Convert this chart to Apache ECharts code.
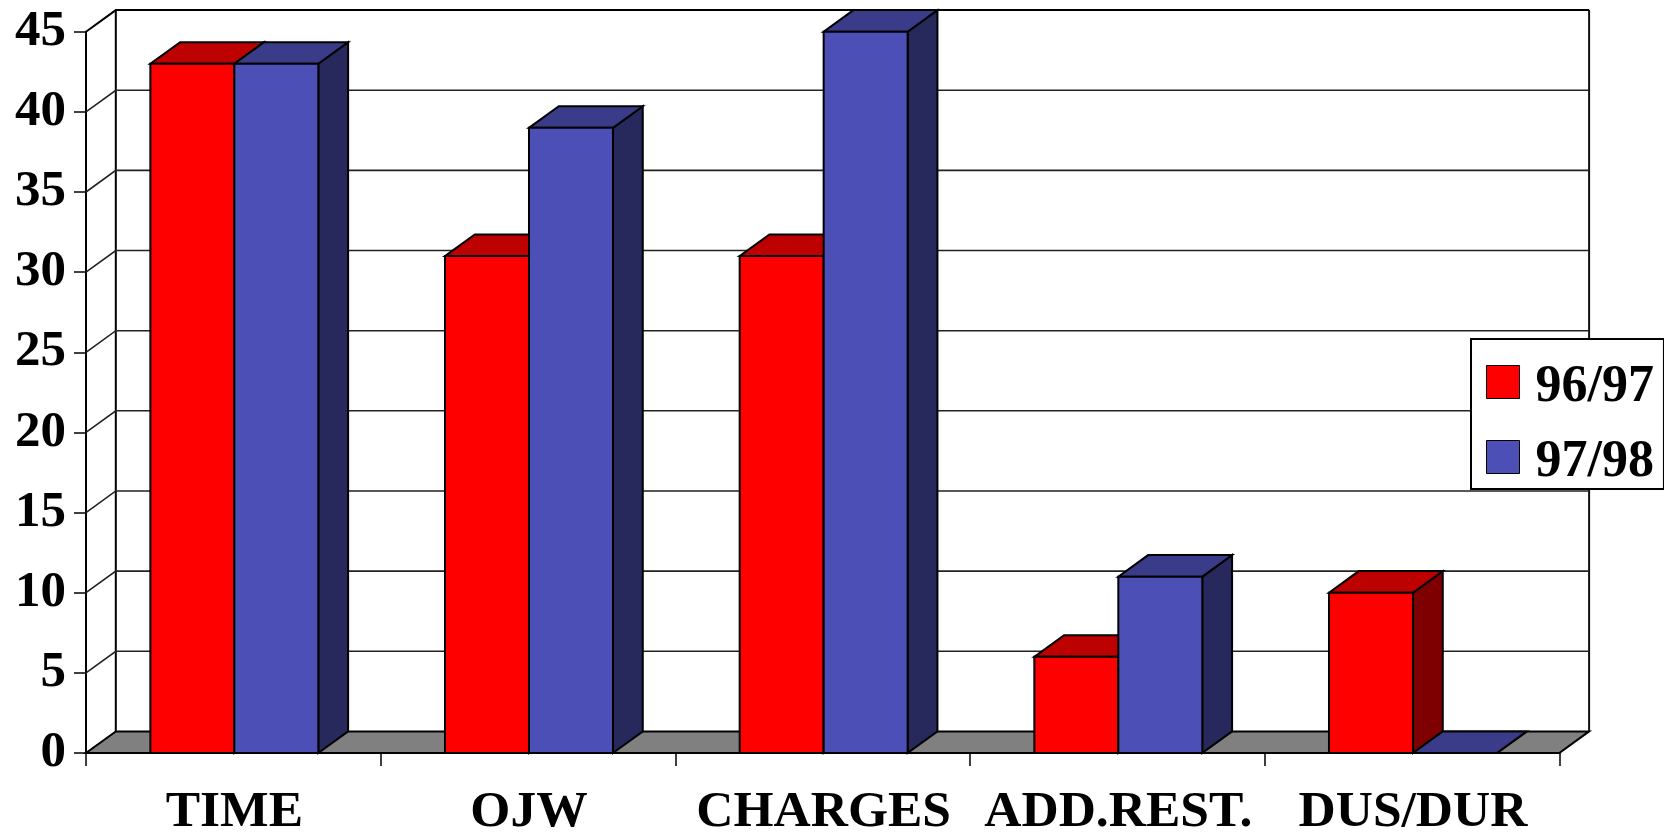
<!DOCTYPE html>
<html>
<head>
<meta charset="utf-8">
<style>html,body{margin:0;padding:0;background:#fff}#c{width:1664px;height:832px}</style>
<script src="https://cdn.jsdelivr.net/npm/echarts@6/dist/echarts.min.js"></script>
</head>
<body>
<div id="c"></div>
<script>
var categories = ['TIME', 'OJW', 'CHARGES', 'ADD.REST.', 'DUS/DUR'];
var values9697 = [43, 31, 31, 6, 10];
var values9798 = [43, 39, 45, 11, 0];
var valueTicks = [0, 5, 10, 15, 20, 25, 30, 35, 40, 45];
var seriesNames = ['96/97', '97/98'];

var DX = 29.8, DY = -21.6, BAR_RATIO = 0.285;
var FONT = '"Liberation Serif","Times New Roman",serif';
var palette = [
  {front: '#ff0000', top: '#bd0000', side: '#7f0000'},
  {front: '#4c50b6', top: '#3a3c8a', side: '#27285c'}
];

function poly(points, fill, lw) {
  return {type: 'polygon', shape: {points: points},
    style: {fill: fill, stroke: '#000', lineWidth: lw || 2, lineJoin: 'miter'}};
}

function renderBar(index) {
  return function (params, api) {
    var cat = api.value(0), val = api.value(1);
    var band = api.size([1, 0])[0];
    var w = band * BAR_RATIO;
    var base = api.coord([cat, 0]), top = api.coord([cat, val]);
    var x0 = base[0] + (index - 1) * w + 1, x1 = x0 + w, yb = base[1], yt = top[1];
    var c = palette[index];
    return {type: 'group', children: [
      poly([[x1, yb], [x1 + DX, yb + DY], [x1 + DX, yt + DY], [x1, yt]], c.side),
      poly([[x0, yt], [x1, yt], [x1 + DX, yt + DY], [x0 + DX, yt + DY]], c.top),
      poly([[x0, yb], [x1, yb], [x1, yt], [x0, yt]], c.front)
    ]};
  };
}

function renderWall(params, api) {
  var v = api.value(0);
  var left = api.coord([0, v]);
  var band = api.size([1, 0])[0];
  var xl = left[0] - band / 2, xr = xl + band * categories.length, y = left[1];
  var children = [];
  if (v === 0) {
    var top = api.coord([0, valueTicks[valueTicks.length - 1]])[1];
    children.push(poly([[xl, y], [xr, y], [xr + DX, y + DY], [xl + DX, y + DY]], '#808080'));
    children.push({type: 'polyline', shape: {points: [[xl + DX, y + DY], [xl + DX, top + DY]]},
      style: {stroke: '#000', lineWidth: 2, fill: 'none'}});
    children.push({type: 'polyline', shape: {points: [[xr + DX, y + DY], [xr + DX, top + DY]]},
      style: {stroke: '#111', lineWidth: 2, fill: 'none'}});
  } else {
    var isTop = v === valueTicks[valueTicks.length - 1];
    children.push({type: 'polyline', shape: {points: [[xl, y], [xl + DX, y + DY], [xr + DX, y + DY]]},
      style: {stroke: isTop ? '#000' : '#222', lineWidth: isTop ? 2 : 1.6, fill: 'none'}});
  }
  return {type: 'group', children: children};
}

function pairs(arr) { return arr.map(function (v, i) { return [i, v]; }); }

var chart = echarts.init(document.getElementById('c'), null, {renderer: 'canvas'});
chart.setOption({
  animation: false,
  backgroundColor: '#fff',
  grid: {left: 86, top: 31.7, width: 1473.3, height: 721.3, containLabel: false, outerBoundsMode: 'none'},
  legend: {
    data: seriesNames, orient: 'vertical', left: 1471, top: 339,
    padding: [11, 10, 0, 15], itemWidth: 33, itemHeight: 33, itemGap: 11,
    backgroundColor: '#fff', borderColor: '#000', borderWidth: 2, icon: 'rect',
    itemStyle: {borderColor: '#000', borderWidth: 1},
    formatter: '{a|{name}}',
    textStyle: {
      rich: {a: {fontFamily: FONT, fontWeight: 'bold', fontSize: 52, color: '#000', lineHeight: 42, padding: [12, 0, 0, 11]}}
    }
  },
  xAxis: {
    type: 'category', data: categories,
    axisLine: {onZero: false, lineStyle: {color: '#000', width: 2}},
    axisTick: {show: true, length: 13, lineStyle: {color: '#000', width: 1.5}},
    axisLabel: {interval: 0, margin: 34, color: '#000', fontFamily: FONT, fontWeight: 'bold', fontSize: 51.5, padding: [0, 0, 0, 2]}
  },
  yAxis: {
    type: 'value', min: 0, max: 45, interval: 5,
    axisLine: {show: true, lineStyle: {color: '#000', width: 2}},
    axisTick: {show: true, length: 12, lineStyle: {color: '#000', width: 1.5}},
    axisLabel: {margin: 20, color: '#000', fontFamily: FONT, fontWeight: 'bold', fontSize: 51, padding: [9, 0, 0, 0]},
    splitLine: {show: false}
  },
  series: [
    {type: 'custom', name: 'wall', silent: true, z: 1, clip: false,
     renderItem: renderWall, data: valueTicks.map(function (v) { return [v]; }),
     encode: {y: 0}},
    {type: 'custom', name: seriesNames[0], z: 2, clip: false, itemStyle: {color: palette[0].front},
     renderItem: renderBar(0), data: pairs(values9697), encode: {x: 0, y: 1}},
    {type: 'custom', name: seriesNames[1], z: 3, clip: false, itemStyle: {color: palette[1].front},
     renderItem: renderBar(1), data: pairs(values9798), encode: {x: 0, y: 1}}
  ]
});
</script>
</body>
</html>
